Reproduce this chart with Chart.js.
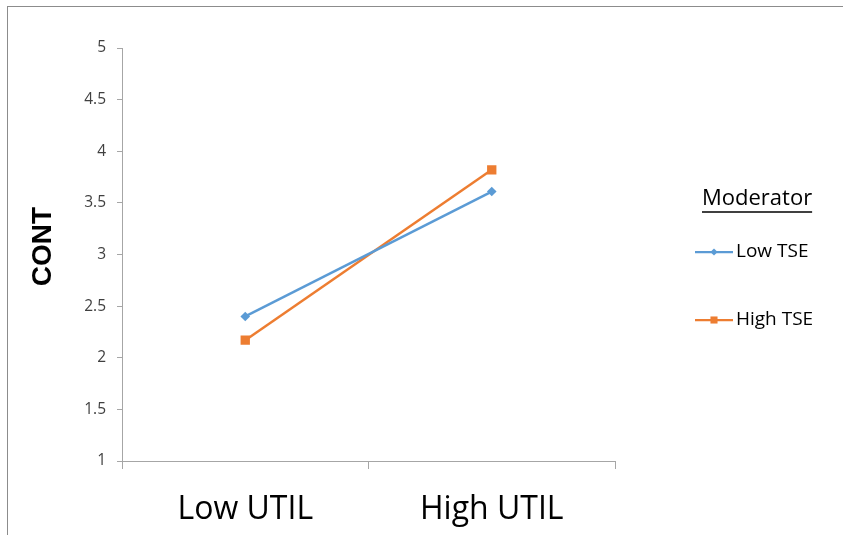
<!DOCTYPE html>
<html>
<head>
<meta charset="utf-8">
<script src="https://cdn.jsdelivr.net/npm/chart.js@4/dist/chart.umd.min.js"></script>
<style>
  html, body { margin: 0; padding: 0; background: #ffffff; }
  #wrap { position: relative; width: 843px; height: 535px; overflow: hidden; }
  #frame { position: absolute; left: 7px; top: 6px; width: 900px; height: 600px;
           border-top: 1px solid #8c8c8c; border-left: 1px solid #8c8c8c; }
  #c { position: absolute; left: 0; top: 0; }
</style>
</head>
<body>
<div id="wrap">
  <div id="frame"></div>
  <canvas id="c" width="843" height="535"></canvas>
</div>
<script>
// Interaction plot: CONT by UTIL level, split by TSE moderator
const categories = ['Low UTIL', 'High UTIL'];
const seriesNames = ['Low TSE', 'High TSE'];
const lowTSE = [2.40, 3.61];
const highTSE = [2.17, 3.82];
const yMin = 1;
const yMax = 5;
const yStep = 0.5;
const yTitle = 'CONT';
const legendTitle = 'Moderator';

const BLUE = '#5B9BD5';
const ORANGE = '#ED7D31';
const AXIS = '#a6a6a6';
const FONT = '"Open Sans", "Liberation Sans", sans-serif';

// Rotated y-axis title, drawn left of the tick labels
const yAxisTitle = {
  id: 'yAxisTitle',
  afterDraw(chart) {
    const ctx = chart.ctx;
    const area = chart.chartArea;
    ctx.save();
    ctx.translate(43, (area.top + area.bottom) / 2 - 8);
    ctx.rotate(-Math.PI / 2);
    ctx.font = 'bold 28px "Liberation Sans", Arial, sans-serif';
    ctx.fillStyle = '#000000';
    ctx.textAlign = 'center';
    ctx.textBaseline = 'middle';
    ctx.fillText(yTitle, 0, 0);
    ctx.restore();
  }
};

// Legend on the right with an underlined title
const sideLegend = {
  id: 'sideLegend',
  afterDraw(chart) {
    const ctx = chart.ctx;
    ctx.save();
    ctx.font = '22px ' + FONT;
    ctx.fillStyle = '#000000';
    ctx.textBaseline = 'middle';
    ctx.textAlign = 'left';
    const tx = 702, ty = 199;
    ctx.fillText(legendTitle, tx, ty);
    const w = ctx.measureText(legendTitle).width;
    ctx.strokeStyle = '#000000';
    ctx.lineWidth = 1.5;
    ctx.beginPath();
    ctx.moveTo(tx, 212);
    ctx.lineTo(tx + w, 212);
    ctx.stroke();

    const rows = [252, 320];
    chart.data.datasets.forEach((ds, i) => {
      const y = rows[i];
      ctx.strokeStyle = ds.borderColor;
      ctx.lineWidth = 2.25;
      ctx.beginPath();
      ctx.moveTo(695, y);
      ctx.lineTo(733, y);
      ctx.stroke();
      ctx.fillStyle = ds.borderColor;
      Chart.helpers.drawPoint(ctx, {
        pointStyle: ds.pointStyle,
        radius: ds.pointStyle === 'rect' ? 5 : 3.6,
        borderWidth: 0
      }, 714, y);
      ctx.font = '19px ' + FONT;
      ctx.fillStyle = '#000000';
      ctx.fillText(ds.label, 736, y);
    });
    ctx.restore();
  }
};

new Chart(document.getElementById('c'), {
  type: 'line',
  data: {
    labels: categories,
    datasets: [
      {
        label: seriesNames[0],
        data: lowTSE,
        borderColor: BLUE,
        backgroundColor: BLUE,
        borderWidth: 2.5,
        pointStyle: 'rectRot',
        pointRadius: 4.8,
        pointBorderWidth: 0,
        tension: 0
      },
      {
        label: seriesNames[1],
        data: highTSE,
        borderColor: ORANGE,
        backgroundColor: ORANGE,
        borderWidth: 2.5,
        pointStyle: 'rect',
        pointRadius: 6.6,
        pointBorderWidth: 0,
        tension: 0
      }
    ]
  },
  options: {
    responsive: false,
    animation: false,
    devicePixelRatio: 1,
    layout: { padding: { top: 48, right: 228, bottom: 0, left: 0 } },
    plugins: {
      legend: { display: false },
      tooltip: { enabled: false },
      title: { display: false }
    },
    scales: {
      x: {
        type: 'category',
        offset: true,
        grid: {
          offset: true,
          drawOnChartArea: false,
          drawTicks: true,
          tickLength: 8,
          color: AXIS,
          lineWidth: 1
        },
        border: { display: true, color: AXIS, width: 1 },
        ticks: {
          color: '#000000',
          padding: 22,
          font: { family: FONT, size: 32 }
        },
        afterFit(scale) { scale.height = 74; }
      },
      y: {
        min: yMin,
        max: yMax,
        ticks: {
          stepSize: yStep,
          color: '#404040',
          padding: 11,
          font: { family: FONT, size: 15.5 },
          callback: (v) => String(v)
        },
        grid: {
          drawOnChartArea: false,
          drawTicks: true,
          tickLength: 5,
          color: AXIS,
          lineWidth: 1
        },
        border: { display: true, color: AXIS, width: 1 },
        afterFit(scale) { scale.width = 122; }
      }
    }
  },
  plugins: [yAxisTitle, sideLegend]
});
</script>
</body>
</html>
